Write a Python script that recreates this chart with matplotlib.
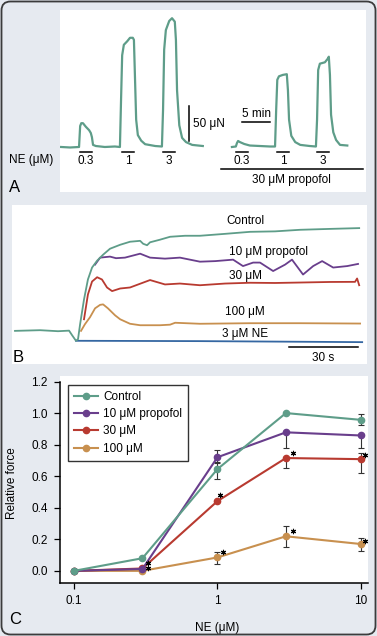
import matplotlib
matplotlib.use("Agg")
import matplotlib.pyplot as plt
from matplotlib.patches import FancyBboxPatch
from matplotlib.transforms import offset_copy

plt.rcParams['font.family'] = ['Liberation Sans', 'DejaVu Sans']

W, H = 377, 636

## colours
green = '#5e9d89'
purple = '#693e8c'
red = '#b83a30'
orange = '#c8904f'
blue = '#3567a2'
bg = '#e6eaf0'

## Panel A: force traces (time in min, force in uN)
a_left_t = [0.2, 1.8, 3.4, 3.6, 3.8, 4.1, 4.6, 5.2, 5.5, 5.7, 5.9, 6.4, 8.0, 9.8,
            10.7, 10.9, 11.1, 11.4, 12.0, 12.5, 13.0, 13.2, 13.4, 13.6, 13.9, 14.5,
            15.2, 17.0, 18.2, 18.4, 18.6, 18.9, 19.5, 20.0, 20.5, 20.7, 20.9, 21.3,
            21.8, 22.5, 23.6, 25.5]
a_left_f = [0, -0.7, 0, 30, 34, 34, 29, 24, 20, 14, 3, 1.4, 0, 0.7,
            0, 67, 131, 146, 151, 156, 156, 153, 96, 39, 17, 9,
            4, 1.4, 0.7, 53, 139, 167, 180, 184, 179, 153, 81, 31,
            13, 7, 3, 1.4]
a_right_t = [30.7, 31.4, 31.6, 31.8, 32.1, 32.9, 33.9, 35.7, 37.5, 38.4, 38.6, 38.8,
             39.1, 39.8, 40.5, 40.7, 40.9, 41.3, 42.0, 42.9, 44.6, 45.7, 45.9, 46.1,
             46.4, 47.3, 47.9, 48.0, 48.2, 48.4, 48.8, 49.3, 50.0, 51.3]
a_right_f = [0, 0.7, 5.7, 8.6, 7.1, 4.3, 2.1, 1.4, 0.7, 0.7, 53, 96,
             101, 103, 104, 81, 39, 16, 7, 3, 1.4, 0.7, 39, 110,
             119, 121, 127, 129, 103, 46, 21, 10, 3, 2.1]
# NE application periods (min) and labels
ne_start = [3.6, 11.1, 18.4, 31.4, 38.8, 45.9]
ne_end = [5.7, 13.2, 20.5, 33.6, 40.9, 48.0]
ne_labels = ['0.3', '1', '3', '0.3', '1', '3']

## Panel B: traces at 3 uM NE (time in s, force arbitrary)
b_ctl_t = [1.3, 12.2, 20.0, 24.8, 26.1, 27.8, 28.7, 29.6, 31.3, 33.0, 34.8, 37.0, 39.6,
           42.6, 47.0, 51.3, 55.7, 57.0, 58.7, 60.0, 64.3, 68.7, 75.2, 81.7, 92.6,
           103.5, 114.3, 125.2, 138.3, 150.9]
b_ctl_f = [9.1, 9.7, 8.8, 9.3, 5.3, 0.3, 1.8, 15, 37, 54.7, 65.3, 71.4, 76.7,
           82, 85.5, 88.2, 89, 86.4, 85.1, 87.7, 90, 92.6, 93.5, 93.5, 95.2,
           97, 97.4, 98.8, 99.6, 100.3]
b_p10_t = [36.1, 38.3, 42.6, 45.2, 49.1, 55.7, 60.0, 66.5, 73.0, 81.7, 88.3, 96.1,
           100.4, 104.8, 107.8, 113.5, 118.7, 121.7, 126.5, 130.9, 134.8, 139.6,
           145.7, 150.4]
b_p10_f = [67.9, 74.1, 75, 73.6, 74.1, 77.6, 74.1, 73.2, 74.1, 70.5, 71, 72.3,
           66.6, 69.7, 69.7, 62.2, 67.9, 72.3, 59.1, 66.6, 71, 65.3, 66.6, 68.5]
b_p30_t = [31.3, 33.0, 34.8, 37.0, 39.1, 41.3, 43.5, 47.0, 51.3, 60.0, 66.5, 73.0,
           81.7, 92.6, 103.5, 114.3, 125.2, 138.3, 149.1, 150.0, 150.9]
b_p30_f = [19.4, 41.4, 52.9, 56.7, 54.7, 47.6, 44.4, 46.7, 47.6, 54.2, 50.3, 51.1,
           49.6, 51.1, 51.8, 51.6, 52, 52.5, 52.6, 55.6, 49.6]
b_p100_t = [30.0, 31.7, 33.9, 36.1, 38.3, 39.6, 41.7, 44.8, 47.0, 51.3, 55.7, 64.3,
            68.7, 70.9, 81.7, 103.5, 125.2, 151.3]
b_p100_f = [9.1, 15, 21.2, 29.1, 32.2, 32.6, 29.1, 22.9, 19.4, 15.4, 14.1, 14.1,
            14.6, 16.3, 15.4, 15.9, 15.9, 15.6]
b_ne_t = [27.8, 81.7, 152.2]
b_ne_f = [0.3, 0, -0.9]

## Panel C: concentration-response
ne_conc = [0.1, 0.3, 1, 3, 10]
series_names = ['Control', '10 \u03bcM propofol', '30 \u03bcM', '100 \u03bcM']
ctl_vals = [0, 0.08, 0.645, 1.0, 0.957]
p10_vals = [0, 0.012, 0.72, 0.878, 0.858]
p30_vals = [0, 0.015, 0.442, 0.715, 0.708]
p100_vals = [0, 0.0, 0.085, 0.219, 0.17]
ctl_lo = [0, 0, 0.06, 0, 0.035]
ctl_hi = [0, 0, 0.04, 0, 0.035]
p10_lo = [0, 0, 0.03, 0.1, 0.08]
p10_hi = [0, 0, 0.045, 0, 0]
p30_lo = [0, 0, 0, 0.065, 0.085]
p30_hi = [0, 0, 0, 0, 0.04]
p100_lo = [0, 0, 0.042, 0.069, 0.042]
p100_hi = [0, 0, 0.036, 0.063, 0.037]
# significant points (series index, concentration index)
stars = [(2, 1), (3, 1), (2, 2), (2, 3), (2, 4), (3, 2), (3, 3), (3, 4)]
# where each star sits relative to its point (points)
star_offsets = [(4.3, 4), (4.3, 2), (2, 4.3), (5, 3.6), (3, 3), (4.3, 4), (5, 3.6), (3, 2.4)]


def rect(x0, y0, x1, y1):
    # pixel box -> figure fraction
    return [x0 / W, 1 - y1 / H, (x1 - x0) / W, (y1 - y0) / H]


def ftext(x, y, s, **kw):
    fig.text(x / W, 1 - y / H, s, **kw)


def blank(ax):
    ax.set_xticks([])
    ax.set_yticks([])
    for sp in ax.spines.values():
        sp.set_visible(False)


fig = plt.figure(figsize=(W / 100, H / 100), dpi=100, facecolor=bg)
frame = FancyBboxPatch((1.5, 1.5), W - 3, H - 3, boxstyle="round,pad=0,rounding_size=9",
                       transform=None, facecolor='none', edgecolor='#3c3c3c', lw=1.3)
fig.patches.append(frame)

## ---- Panel A
axA = fig.add_axes(rect(60, 10, 366, 192), facecolor='white')
blank(axA)
axA.plot(a_left_t, a_left_f, color=green, lw=1.6, solid_joinstyle='round')
axA.plot(a_right_t, a_right_f, color=green, lw=1.6, solid_joinstyle='round')
for s, e, lab in zip(ne_start, ne_end, ne_labels):
    axA.plot([s, e], [-7.1, -7.1], color='black', lw=1.1)
    axA.text((s + e) / 2, -20, lab, ha='center', va='center', fontsize=8.5)
axA.plot([28.75, 54.1], [-31.4, -31.4], color='black', lw=1.1)
axA.text(41.4, -47, '30 \u03bcM propofol', ha='center', va='center', fontsize=8.5)
axA.plot([23.0, 23.0], [8.6, 58.6], color='black', lw=1.1)
axA.text(23.7, 33, '50 \u03bcN', ha='left', va='center', fontsize=8.5)
axA.plot([32.5, 37.5], [35.7, 35.7], color='black', lw=1.1)
axA.text(35, 47, '5 min', ha='center', va='center', fontsize=8.5)
axA.set_xlim(0, 54.64)
axA.set_ylim(-64.3, 195.7)
ftext(9, 160, 'NE (\u03bcM)', ha='left', va='center', fontsize=8.5)
ftext(9, 188, 'A', ha='left', va='center', fontsize=12)

## ---- Panel B
axB = fig.add_axes(rect(12, 205, 367, 364), facecolor='white')
blank(axB)
axB.plot(b_ne_t, b_ne_f, color=blue, lw=1.3)
axB.plot(b_p100_t, b_p100_f, color=orange, lw=1.3)
axB.plot(b_p30_t, b_p30_f, color=red, lw=1.3)
axB.plot(b_p10_t, b_p10_f, color=purple, lw=1.3)
axB.plot(b_ctl_t, b_ctl_f, color=green, lw=1.3)
axB.text(101.3, 106.7, 'Control', ha='center', va='center', fontsize=8.5)
axB.text(111.7, 79.4, '10 \u03bcM propofol', ha='center', va='center', fontsize=8.5)
axB.text(101.7, 58.2, '30 \u03bcM', ha='center', va='center', fontsize=8.5)
axB.text(101.3, 25.6, '100 \u03bcM', ha='center', va='center', fontsize=8.5)
axB.text(101.3, 6.2, '3 \u03bcM NE', ha='center', va='center', fontsize=8.5)
axB.plot([120.4, 150.4], [-5.3, -5.3], color='black', lw=1.1)
axB.text(135.2, -15, '30 s', ha='center', va='center', fontsize=8.5)
axB.set_xlim(0, 154.3)
axB.set_ylim(-20.3, 120.8)
ftext(13, 357, 'B', ha='left', va='center', fontsize=12)

## ---- Panel C
axC = fig.add_axes(rect(60, 376, 368, 583), facecolor='white')
cvals = [ctl_vals, p10_vals, p30_vals, p100_vals]
clo = [ctl_lo, p10_lo, p30_lo, p100_lo]
chi = [ctl_hi, p10_hi, p30_hi, p100_hi]
ccol = [green, purple, red, orange]
handles = []
for i in [3, 2, 1, 0]:
    axC.errorbar(ne_conc, cvals[i], yerr=[clo[i], chi[i]], fmt='none',
                 ecolor='#333333', elinewidth=0.8, capsize=2, capthick=0.8, zorder=2)
for i in [3, 2, 1, 0]:
    ln, = axC.plot(ne_conc, cvals[i], color=ccol[i], lw=1.5, marker='o', ms=4.5,
                   label=series_names[i], zorder=3)
    handles.append(ln)
# asterisks for significance, drawn as markers next to each point
for (si, ci), (dx, dy) in zip(stars, star_offsets):
    tr = offset_copy(axC.transData, fig=fig, x=dx, y=dy, units='points')
    axC.plot([ne_conc[ci]], [cvals[si][ci]], marker=(6, 2, 0), ms=3.8, mew=0.8,
             color='black', transform=tr, zorder=4)
axC.set_xscale('log')
axC.set_xlim(0.0799, 11.2)
axC.set_ylim(-0.077, 1.235)
axC.set_xticks([0.1, 1, 10])
axC.set_xticklabels(['0.1', '1', '10'])
axC.minorticks_off()
axC.set_yticks([0, 0.2, 0.4, 0.6, 0.8, 1.0, 1.2])
axC.set_yticklabels(['0.0', '0.2', '0.4', '0.6', '0.8', '1.0', '1.2'])
axC.tick_params(labelsize=8.5, length=4, width=0.9, direction='out', pad=5)
axC.spines['top'].set_visible(False)
axC.spines['right'].set_visible(False)
axC.spines['left'].set_bounds(-0.077, 1.2)
axC.spines['left'].set_linewidth(1.1)
axC.spines['bottom'].set_linewidth(1.1)
axC.set_ylabel('Relative force', fontsize=8.5)
axC.yaxis.set_label_coords(-0.136, 0.483)
axC.set_xlabel('NE (\u03bcM)', fontsize=8.5)
axC.xaxis.set_label_coords(0.51, -0.187)
leg = axC.legend(handles=handles[::-1], loc='upper left', bbox_to_anchor=(0.026, 0.957),
                 borderaxespad=0, fontsize=8.5, frameon=True, fancybox=False,
                 edgecolor='black', handlelength=2.0, handletextpad=0.5,
                 borderpad=0.5, labelspacing=0.45)
leg.get_frame().set_linewidth(1.0)
ftext(9, 620, 'C', ha='left', va='center', fontsize=12)

fig.savefig('out.png', dpi=100, facecolor=bg)
